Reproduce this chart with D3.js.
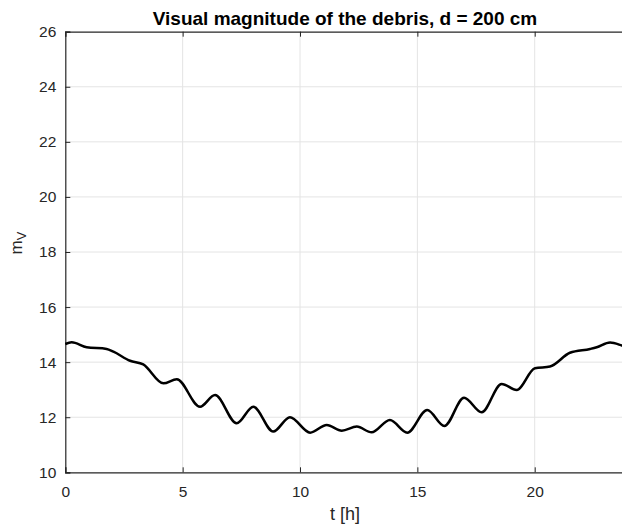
<!DOCTYPE html>
<html><head><meta charset="utf-8">
<script src="https://cdn.jsdelivr.net/npm/d3@7"></script>
<style>body{margin:0;background:#fff;} svg{display:block;}</style>
</head><body>
<svg id="c" width="622" height="528"></svg>
<script>
const tHours = [0, 0.27, 0.91, 1.76, 2.05, 2.76, 3.32, 4.18, 4.75, 5.74, 6.38, 7.30, 8.01, 8.86, 9.57, 10.43, 11.14, 11.78, 12.42, 13.05, 13.83, 14.57, 15.42, 16.15, 16.99, 17.74, 18.59, 19.23, 20.01, 20.65, 21.5, 22.36, 22.64, 23.21, 23.72, 24];
const magV   = [14.66, 14.72, 14.54, 14.48, 14.38, 14.05, 13.92, 13.23, 13.38, 12.38, 12.81, 11.78, 12.38, 11.48, 12.0, 11.44, 11.72, 11.51, 11.66, 11.45, 11.9, 11.44, 12.26, 11.68, 12.71, 12.18, 13.21, 12.99, 13.78, 13.84, 14.34, 14.48, 14.54, 14.71, 14.6, 14.52];
const xTicks = [0, 5, 10, 15, 20];
const yTicks = [10, 12, 14, 16, 18, 20, 22, 24, 26];

const svg = d3.select("#c");
const L = 65.3, R = 628.6, T = 31.7, B = 472.3;
const x = d3.scaleLinear().domain([0, 24]).range([L, R]);
const y = d3.scaleLinear().domain([10, 26]).range([B, T]);
const font = "'Liberation Sans', Arial, Helvetica, sans-serif";
const axisCol = "#262626";

// grid
svg.append("g").selectAll("line").data(xTicks.slice(1)).join("line")
  .attr("x1", d => x(d)).attr("x2", d => x(d)).attr("y1", T).attr("y2", B)
  .attr("stroke", "#e4e4e4").attr("stroke-width", 1);
svg.append("g").selectAll("line").data(yTicks.slice(1, -1)).join("line")
  .attr("y1", d => y(d)).attr("y2", d => y(d)).attr("x1", L).attr("x2", R)
  .attr("stroke", "#e4e4e4").attr("stroke-width", 1);

// axes
const xAxis = svg.append("g").attr("transform", `translate(0,${B})`)
  .call(d3.axisBottom(x).tickValues(xTicks).tickSize(-5).tickPadding(14).tickFormat(d3.format("d")));
const xTop = svg.append("g").attr("transform", `translate(0,${T})`)
  .call(d3.axisTop(x).tickValues(xTicks).tickSize(-5).tickFormat(""));
const yAxis = svg.append("g").attr("transform", `translate(${L},0)`)
  .call(d3.axisLeft(y).tickValues(yTicks).tickSize(-5).tickPadding(9).tickFormat(d3.format("d")));
[xAxis, xTop, yAxis].forEach(g => {
  g.select(".domain").attr("stroke", axisCol).attr("stroke-width", 1.2);
  g.selectAll(".tick line").attr("stroke", axisCol).attr("stroke-width", 1);
  g.selectAll("text").attr("fill", axisCol).style("font-family", font).style("font-size", "15.5px");
});

// line
svg.append("path")
  .datum(tHours.map((t, i) => [t, magV[i]]))
  .attr("fill", "none").attr("stroke", "#000").attr("stroke-width", 2.5)
  .attr("stroke-linejoin", "round")
  .attr("d", d3.line().x(d => x(d[0])).y(d => y(d[1])).curve(d3.curveMonotoneX));

// title and labels
svg.append("text").attr("x", 345).attr("y", 25).attr("text-anchor", "middle")
  .style("font-family", font).style("font-size", "19px").style("font-weight", "bold")
  .attr("fill", "#000").text("Visual magnitude of the debris, d = 200 cm");
svg.append("text").attr("x", 345).attr("y", 520).attr("text-anchor", "middle")
  .style("font-family", font).style("font-size", "18px").attr("fill", axisCol).text("t [h]");
const yl = svg.append("text").attr("transform", "translate(22,243) rotate(-90)").attr("text-anchor", "middle")
  .style("font-family", font).style("font-size", "17px").attr("fill", axisCol);
yl.append("tspan").text("m");
yl.append("tspan").attr("dy", 4).style("font-size", "13px").text("V");
</script>
</body></html>
